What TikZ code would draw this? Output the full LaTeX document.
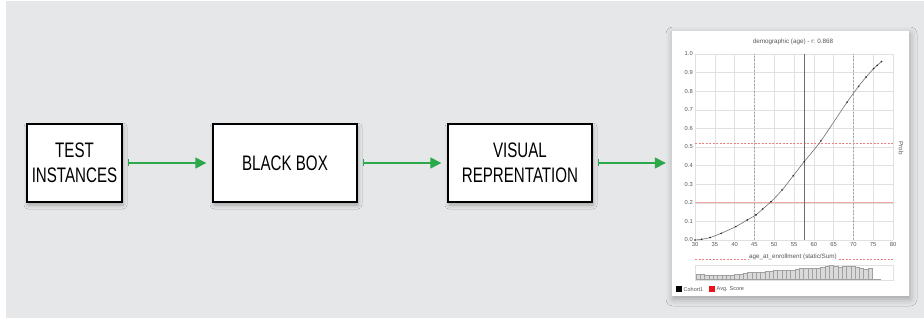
\documentclass[tikz,border=0pt]{standalone}
\usepackage{fontspec}
\setmainfont{Liberation Sans}
\newfontfamily\narrowfont[FakeStretch=0.72]{Liberation Sans}
\usetikzlibrary{arrows.meta,shadows.blur}

\definecolor{panel}{HTML}{E6E7E8}
\definecolor{flowgreen}{HTML}{2AA84A}
\definecolor{gridgray}{HTML}{E0E0E0}
\definecolor{inkgray}{HTML}{555555}
\definecolor{curvegray}{HTML}{6E6E6E}
\definecolor{guidegray}{HTML}{A8A8A8}
\definecolor{refred}{HTML}{F4A3A3}
\definecolor{dashred}{HTML}{EE8080}
\definecolor{legendred}{HTML}{E8141B}
\definecolor{barfill}{HTML}{DADADA}
\definecolor{barline}{HTML}{A0A0A0}

\tikzset{
  stepbox/.style={draw=black, line width=1.4pt, fill=white, align=center,
    inner sep=0pt, font=\narrowfont\fontsize{21}{25.5}\selectfont,
    blur shadow={shadow xshift=1pt, shadow yshift=-3pt,
      shadow blur radius=4pt, shadow opacity=30}},
  chartcard/.style={fill=white, inner sep=0pt,
    blur shadow={shadow xshift=1pt, shadow yshift=-3pt,
      shadow blur radius=7pt, shadow opacity=30}},
  flow/.style={draw=flowgreen, line width=1.5pt,
    {Bar[width=7pt,line width=1.3pt]}-{Triangle[length=11pt,width=11pt]},
    shorten <=5pt, shorten >=6pt},
  grid/.style={draw=gridgray, line width=0.5pt},
  ticklab/.style={font=\fontsize{5.8}{6}\selectfont, text=inkgray, inner sep=0pt},
  chartlab/.style={font=\fontsize{6.3}{7}\selectfont, text=inkgray, inner sep=0.5pt},
  curve/.style={draw=curvegray, line width=0.6pt},
  histbar/.style={fill=barfill, draw=barline, line width=0.45pt},
}

\begin{document}
\begin{tikzpicture}[x=1pt, y=-1pt]
\useasboundingbox (0,0) rectangle (924,320);
\fill[white] (0,0) rectangle (924,320);
\fill[panel] (6,1) rectangle (924,318);

% pipeline boxes
\node[stepbox, minimum width=95pt, minimum height=78pt] (test) at (74.5,163) {TEST\\INSTANCES};
\node[stepbox, minimum width=144pt, minimum height=78pt] (blackbox) at (285,163) {BLACK BOX};
\node[stepbox, minimum width=144pt, minimum height=78pt] (visual) at (520,163) {VISUAL\\REPRENTATION};

% chart card
\node[chartcard, minimum width=237pt, minimum height=265pt] (card) at (790.5,163.5) {};

% connectors
\draw[flow] (test.east) -- (blackbox.west);
\draw[flow] (blackbox.east) -- (visual.west);
\draw[flow] (visual.east) -- (visual.east -| card.west);

% chart title
\node[chartlab] (title) at (793,42) {demographic (age) - r: 0.868};

% plot area: x in years from 30, y in probability
\begin{scope}[shift={(695,240)}, x=3.96pt, y=186pt]
  \foreach \a in {0,5,...,50} \draw[grid] (\a,0) -- (\a,1);
  \foreach \i in {0,...,10} \draw[grid] (0,\i/10) -- (50,\i/10);
  \foreach \i/\t in {0/0.0,1/0.1,2/0.2,3/0.3,4/0.4,5/0.5,6/0.6,7/0.7,8/0.8,9/0.9,10/1.0}
    \node[ticklab, anchor=east, xshift=-2pt] at (0,\i/10) {\t};
  \foreach \a/\t in {0/30,5/35,10/40,15/45,20/50,25/55,30/60,35/65,40/70,45/75,50/80}
    \node[ticklab, anchor=north, yshift=-2.5pt] at (\a,0) {\t};
  % reference lines
  \draw[refred, line width=0.8pt] (0,0.2) -- (50,0.2);
  \draw[dashred, line width=0.8pt, dash pattern=on 2pt off 1.5pt] (0,0.52) -- (50,0.52);
  \draw[guidegray, line width=0.6pt, dash pattern=on 2pt off 1.5pt] (15,0) -- (15,1);
  \draw[guidegray, line width=0.6pt, dash pattern=on 2pt off 1.5pt] (40,0) -- (40,1);
  \draw[curvegray, line width=0.6pt] (27.5,0) -- (27.5,1);
  % fitted curve and sample points
  \draw[curve] plot[smooth, tension=0.5] coordinates {
    (0,0) (1.7,0.004) (3.8,0.013) (6.6,0.036) (10.3,0.072) (13.2,0.108)
    (15.4,0.135) (17.1,0.167) (19.2,0.206) (22,0.269) (24.8,0.345)
    (27.6,0.422) (31.8,0.533) (38.4,0.741) (41.3,0.826) (43.2,0.876)
    (45.1,0.921) (46,0.939) (47.1,0.959)};
  \foreach \px/\py in {0/0,1.7/0.004,3.8/0.013,6.6/0.036,10.3/0.072,13.2/0.108,
    15.4/0.135,17.1/0.167,19.2/0.206,22/0.269,24.8/0.345,27.6/0.422,31.8/0.533,
    38.4/0.741,41.3/0.826,43.2/0.876,45.1/0.921,46/0.939,47.1/0.959}
    \fill[black!85] (\px,\py) circle (0.9pt);
\end{scope}

% right axis label
\node[chartlab, rotate=-90] (ylab) at (901,148) {Prob};

% x axis label with dashed guide
\draw[dashred, line width=0.6pt, dash pattern=on 2pt off 1.5pt] (695,259.5) -- (893,259.5);
\node[chartlab, fill=white] (xlab) at (793,257) {age\_at\_enrollment (static/Sum)};

% histogram strip
\draw[draw=gridgray, line width=0.5pt] (695,265) rectangle (893,280);
\foreach \h [count=\k] in {5,4.5,4,3.8,3.8,3.8,4,4,4.2,4.5,5,6,6.5,6.5,7,7.2,8,8,8.5,8.5,
  8.8,9,9,10,11,11,11,10.5,11,12,13,13.5,12.5,12,13,13,12.5,12,11,10,11}
  \draw[histbar] ({696+(\k-1)*4.3},279) rectangle ++(4.3,-\h);
\draw[barline, line width=0.5pt] (872,279) -- (881,279);

% legend
\fill[black] (676,286.5) rectangle (682,292.5);
\node[chartlab, anchor=west, font=\fontsize{5.5}{6}\selectfont] (lg1) at (683,289.5) {Cohort1};
\fill[legendred] (709,286.5) rectangle (715,292.5);
\node[chartlab, anchor=west, font=\fontsize{5.5}{6}\selectfont] (lg2) at (716,289.5) {Avg. Score};
\end{tikzpicture}
\end{document}
